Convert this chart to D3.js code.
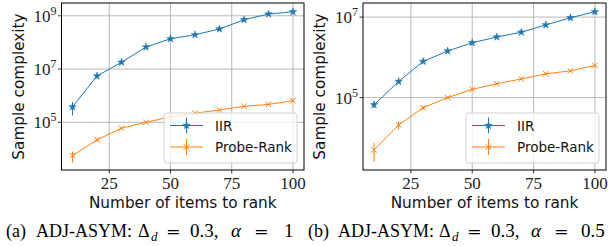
<!DOCTYPE html>
<html><head><meta charset="utf-8">
<script src="https://cdn.jsdelivr.net/npm/d3@7"></script>
<style>body{margin:0;background:#fff}svg{display:block}</style>
</head><body>
<svg id="c" width="610" height="246"></svg>
<script>
const items = [10,20,30,40,50,60,70,80,90,100];
const xTicks = [25,50,75,100];
// Panel (a)
const iirA = [3.8e5,5.5e6,1.8e7,6.7e7,1.37e8,1.94e8,3.2e8,7.1e8,1.16e9,1.41e9];
const iirAErr = [2.0e5,1.0e6,1.5e6,5e6,8e6,1e7,1.5e7,3e7,5e7,6e7];
const prA = [5.6e3,2.2e4,6.0e4,1.0e5,1.6e5,2.2e5,2.9e5,4.0e5,4.7e5,6.5e5];
const prAErr = [2.5e3,3e3,4e3,5e3,8e3,1e4,1.2e4,2e4,2e4,3e4];
const yTicksA = [5,7,9];
// Panel (b)
const iirB = [6.6e4,2.5e5,7.9e5,1.43e6,2.3e6,3.2e6,4.2e6,6.4e6,9.6e6,1.36e7];
const iirBErr = [1.0e4,2.5e4,5e4,8e4,1e5,1.5e5,2e5,3e5,4e5,6e5];
const prB = [5.0e3,2.1e4,5.6e4,1.0e5,1.6e5,2.2e5,2.9e5,3.9e5,4.6e5,6.3e5];
const prBErr = [2.5e3,5e3,6e3,6e3,8e3,1e4,1.2e4,1.5e4,2e4,2.5e4];
const yTicksB = [5,7];
const seriesNames = ["IIR","Probe-Rank"];
const colors = ["#1f77b4","#ff7f0e"];

const svg = d3.select("#c");
const serif = "'Liberation Serif', 'Times New Roman', serif";
const sans = "'DejaVu Sans', sans-serif";

function panel(cfg){
  const {x0,x1,y0,y1,ydom,yTicks,series,caption,capX,capOff} = cfg;
  const x = d3.scaleLinear().domain([5.5,104.5]).range([x0,x1]);
  const y = d3.scaleLog().domain(ydom).range([y1,y0]);
  const g = svg.append("g");
  // grid
  g.selectAll(".gx").data(xTicks).join("line")
    .attr("x1",d=>x(d)).attr("x2",d=>x(d)).attr("y1",y0).attr("y2",y1)
    .attr("stroke","#b0b0b0").attr("stroke-width",0.9);
  g.selectAll(".gy").data(yTicks).join("line")
    .attr("x1",x0).attr("x2",x1).attr("y1",d=>y(Math.pow(10,d))).attr("y2",d=>y(Math.pow(10,d)))
    .attr("stroke","#b0b0b0").attr("stroke-width",0.9);
  // series
  series.forEach((s,i)=>{
    const c = colors[i];
    const line = d3.line().x((d,j)=>x(items[j])).y(d=>y(d));
    g.append("path").datum(s.v).attr("d",line).attr("fill","none").attr("stroke",c).attr("stroke-width",1);
    g.selectAll(null).data(s.v).join("line")
      .attr("x1",(d,j)=>x(items[j])).attr("x2",(d,j)=>x(items[j]))
      .attr("y1",(d,j)=>y(d+s.e[j])).attr("y2",(d,j)=>y(Math.max(d-s.e[j],1)))
      .attr("stroke",c).attr("stroke-width",1);
    const sym = i===0 ? d3.symbol(d3.symbolStar,18) : d3.symbol(d3.symbolTimes||d3.symbolX,22);
    g.selectAll(null).data(s.v).join("path")
      .attr("transform",(d,j)=>`translate(${x(items[j])},${y(d)})`)
      .attr("d",sym)
      .attr("fill",i===0?c:"none").attr("stroke",c).attr("stroke-width",i===0?0.5:1);
  });
  // spines
  g.append("rect").attr("x",x0).attr("y",y0).attr("width",x1-x0).attr("height",y1-y0)
    .attr("fill","none").attr("stroke","#000").attr("stroke-width",1);
  // x ticks
  xTicks.forEach(t=>{
    g.append("line").attr("x1",x(t)).attr("x2",x(t)).attr("y1",y1).attr("y2",y1+3.5).attr("stroke","#000").attr("stroke-width",0.8);
    g.append("text").attr("x",x(t)).attr("y",y1+19).attr("text-anchor","middle")
      .attr("font-family",serif).attr("font-size",17).attr("fill","#222").text(t);
  });
  // y ticks
  yTicks.forEach(t=>{
    const yy = y(Math.pow(10,t));
    g.append("line").attr("x1",x0-3.5).attr("x2",x0).attr("y1",yy).attr("y2",yy).attr("stroke","#000").attr("stroke-width",0.8);
    const tx = g.append("text").attr("x",x0-5).attr("y",yy+6).attr("text-anchor","end")
      .attr("font-family",serif).attr("font-size",17).attr("fill","#222");
    tx.append("tspan").text("10");
    tx.append("tspan").attr("dy",-7).attr("font-size",12).text(t);
  });
  // axis labels
  g.append("text").attr("x",(x0+x1)/2).attr("y",208).attr("text-anchor","middle")
    .attr("font-family",sans).attr("font-size",15.3).attr("fill","#111").text("Number of items to rank");
  g.append("text").attr("transform",`translate(${x0-38},${(y0+y1)/2}) rotate(-90)`).attr("text-anchor","middle")
    .attr("font-family",sans).attr("font-size",15.3).attr("fill","#111").text("Sample complexity");
  // legend
  const lx1 = x1-7, lx0 = lx1-133, ly1 = y1-7, ly0 = ly1-50;
  g.append("rect").attr("x",lx0).attr("y",ly0).attr("width",lx1-lx0).attr("height",ly1-ly0)
    .attr("rx",3).attr("fill","#fff").attr("fill-opacity",0.8).attr("stroke","#ccc").attr("stroke-width",0.9);
  seriesNames.forEach((n,i)=>{
    const ly = ly0+12.5+i*21.5, c = colors[i];
    const hx0 = lx0+6, hx1 = lx0+39, hm = (hx0+hx1)/2;
    g.append("line").attr("x1",hx0).attr("x2",hx1).attr("y1",ly).attr("y2",ly).attr("stroke",c).attr("stroke-width",1);
    g.append("line").attr("x1",hm).attr("x2",hm).attr("y1",ly-8).attr("y2",ly+8).attr("stroke",c).attr("stroke-width",1);
    const sym = i===0 ? d3.symbol(d3.symbolStar,18) : d3.symbol(d3.symbolTimes||d3.symbolX,22);
    g.append("path").attr("transform",`translate(${hm},${ly})`).attr("d",sym)
      .attr("fill",i===0?c:"none").attr("stroke",c).attr("stroke-width",i===0?0.5:1);
    g.append("text").attr("x",lx0+51).attr("y",ly+5).attr("font-family",sans).attr("font-size",13.5)
      .attr("fill","#111").text(n);
  });
  // caption (pieces placed to mimic LaTeX math spacing)
  const texts = [caption[0],"ADJ-ASYM:","Δ","d","=","0.3,","α","=",caption[1]];
  const cg = svg.append("g");
  texts.forEach((t,k)=>{
    const sub = k===3, it = (k===3||k===6), eq = (k===4||k===7), math = k>=4;
    cg.append("text").attr("x",capX+capOff[k]).attr("y",237+(sub?4:0))
      .attr("font-family",eq?"'DejaVu Serif', serif":serif)
      .attr("font-size",sub?13:(eq?17.5:(math?19:18)))
      .attr("font-style",it?"italic":"normal").attr("fill","#000").text(t);
  });
}

panel({x0:61.5,x1:304,y0:3,y1:170,ydom:[Math.pow(10,3.21),Math.pow(10,9.48)],yTicks:yTicksA,
  series:[{v:iirA,e:iirAErr},{v:prA,e:prAErr}],caption:["(a)","1"],capX:6,
  capOff:[0,30,132,145,160,184,225,248,278]});
panel({x0:363,x1:606,y0:3,y1:170,ydom:[Math.pow(10,3.2),Math.pow(10,7.35)],yTicks:yTicksB,
  series:[{v:iirB,e:iirBErr},{v:prB,e:prBErr}],caption:["(b)","0.5"],capX:308,
  capOff:[0,30,131,144,159,183,223,246,273]});
</script>
</body></html>
